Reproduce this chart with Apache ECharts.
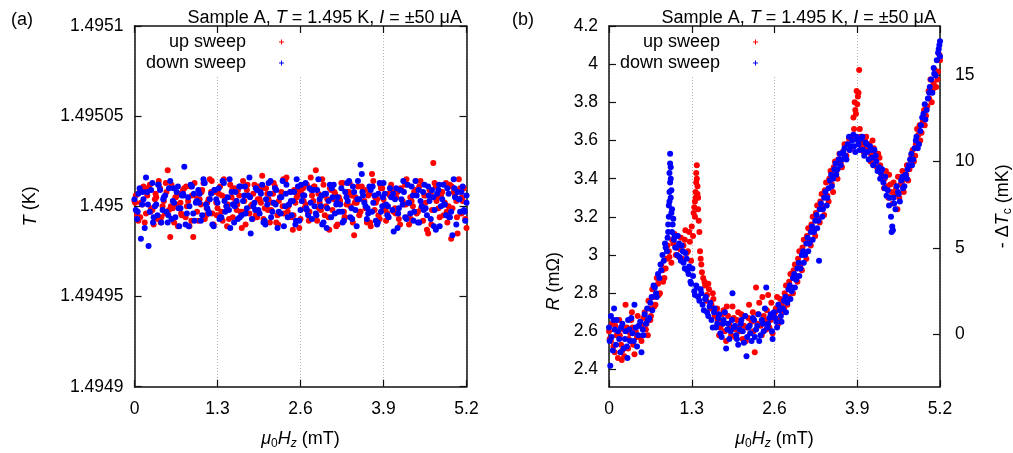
<!DOCTYPE html>
<html><head><meta charset="utf-8">
<script src="https://cdn.jsdelivr.net/npm/echarts@6/dist/echarts.min.js"></script>
<style>html,body{margin:0;padding:0;background:#fff}#c{width:1013px;height:453px}</style>
</head><body><div id="c"></div>
<script>
// ---------- tick labels ----------
const fieldTicks = [0, 1.3, 2.6, 3.9, 5.2];
const fieldTickLabels = ['0', '1.3', '2.6', '3.9', '5.2'];
const tempTickValues = [1.4949, 1.49495, 1.495, 1.49505, 1.4951];
const tempTickLabels = ['1.4949', '1.49495', '1.495', '1.49505', '1.4951'];
const resTickValues = [2.4, 2.6, 2.8, 3.0, 3.2, 3.4, 3.6, 3.8, 4.0, 4.2];
const resTickLabels = ['2.4', '2.6', '2.8', '3', '3.2', '3.4', '3.6', '3.8', '4', '4.2'];
const dTcTickValues = [0, 5, 10, 15];
const dTcTickLabels = ['0', '5', '10', '15'];

// ---------- panel (a): T (K) vs field (mT) ----------
const tempUp = [
[0.00,1.495003],[0.04,1.494995],[0.08,1.495008],[0.12,1.495001],[0.16,1.494991],[0.20,1.495006],[0.24,1.495012],[0.28,1.494998],[0.32,1.495004],[0.36,1.494993],
[0.40,1.495010],[0.44,1.495000],[0.48,1.494996],[0.52,1.495020],[0.56,1.494983],[0.60,1.494999],[0.64,1.495005],[0.68,1.494989],[0.72,1.495002],[0.76,1.495009],
[0.80,1.494994],[0.84,1.495003],[0.88,1.495011],[0.92,1.494983],[0.96,1.495006],[1.00,1.494992],[1.04,1.495001],[1.08,1.495013],[1.12,1.494995],[1.16,1.495004],
[1.20,1.495008],[1.24,1.494990],[1.28,1.495002],[1.32,1.495007],[1.36,1.494997],[1.40,1.495015],[1.44,1.495000],[1.48,1.494993],[1.52,1.495005],[1.56,1.495010],
[1.60,1.494998],[1.64,1.495006],[1.68,1.494988],[1.72,1.495003],[1.76,1.495009],[1.80,1.494996],[1.84,1.495001],[1.88,1.495012],[1.92,1.494994],[1.96,1.495004],
[2.00,1.495017],[2.04,1.494999],[2.08,1.495007],[2.12,1.494991],[2.16,1.495002],[2.20,1.495011],[2.24,1.494995],[2.28,1.495005],[2.32,1.495000],[2.36,1.495014],
[2.40,1.494997],[2.44,1.495008],[2.48,1.494987],[2.52,1.495002],[2.56,1.495006],[2.60,1.494993],[2.64,1.495010],[2.68,1.495001],[2.72,1.494996],[2.76,1.495016],
[2.80,1.495003],[2.84,1.495020],[2.88,1.495007],[2.92,1.494998],[2.96,1.495012],[3.00,1.495000],[3.04,1.494994],[3.08,1.495009],[3.12,1.495004],[3.16,1.494989],
[3.20,1.495005],[3.24,1.495013],[3.28,1.494997],[3.32,1.495001],[3.36,1.495008],[3.40,1.495006],[3.44,1.494984],[3.48,1.495002],[3.52,1.494995],[3.56,1.495011],
[3.60,1.495003],[3.64,1.494991],[3.68,1.495007],[3.72,1.495018],[3.76,1.494998],[3.80,1.495004],[3.84,1.494993],[3.88,1.495010],[3.92,1.495001],[3.96,1.494996],
[4.00,1.495006],[4.04,1.495009],[4.08,1.494999],[4.12,1.495008],[4.16,1.494990],[4.20,1.495003],[4.24,1.495012],[4.28,1.494994],[4.32,1.495005],[4.36,1.495000],
[4.40,1.495009],[4.44,1.494997],[4.48,1.495014],[4.52,1.494992],[4.56,1.495002],[4.60,1.494985],[4.64,1.495007],[4.68,1.495024],[4.72,1.495011],[4.76,1.494999],
[4.80,1.495006],[4.84,1.494995],[4.88,1.495013],[4.92,1.495000],[4.96,1.494982],[5.00,1.495008],[5.04,1.495003],[5.08,1.495015],[5.12,1.494996],[5.16,1.495010],
[5.20,1.494988],
[0.02,1.495006],[0.06,1.494992],[0.10,1.495002],[0.14,1.495011],[0.18,1.494996],[0.22,1.495009],[0.26,1.494999],[0.30,1.494990],[0.34,1.495005],[0.38,1.495014],
[0.42,1.494994],[0.46,1.495003],[0.50,1.495008],[0.54,1.494998],[0.58,1.495012],[0.62,1.494991],[0.66,1.495001],[0.70,1.495007],[0.74,1.494995],[0.78,1.495010],
[0.82,1.495000],[0.86,1.494989],[0.90,1.495006],[0.94,1.495013],[0.98,1.494997],[1.02,1.495004],[1.06,1.495009],[1.10,1.494993],[1.14,1.495002],[1.18,1.495015],
[1.22,1.494996],[1.26,1.495008],[1.30,1.494999],[1.34,1.495011],[1.38,1.494992],[1.42,1.495005],[1.46,1.495001],[1.50,1.495012],[1.54,1.494994],[1.58,1.495003],
[1.62,1.495009],[1.66,1.494997],[1.70,1.495014],[1.74,1.494990],[1.78,1.495006],[1.82,1.495000],[1.86,1.495007],[1.90,1.494995],[1.94,1.495011],[1.98,1.495002],
[2.02,1.494993],[2.06,1.495010],[2.10,1.495004],[2.14,1.494998],[2.18,1.495013],[2.22,1.494991],[2.26,1.495003],[2.30,1.495008],[2.34,1.494996],[2.38,1.495016],
[2.42,1.495001],[2.46,1.494994],[2.50,1.495009],[2.54,1.495005],[2.58,1.494988],[2.62,1.495007],[2.66,1.494999],[2.70,1.495012],[2.74,1.494997],[2.78,1.495006],
[2.82,1.495011],[2.86,1.494992],[2.90,1.495002],[2.94,1.495015],[2.98,1.494995],[3.02,1.495004],[3.06,1.495010],[3.10,1.494998],[3.14,1.495007],[3.18,1.494990],
[3.22,1.495003],[3.26,1.495013],[3.30,1.494994],[3.34,1.495008],[3.38,1.495000],[3.42,1.494991],[3.46,1.495005],[3.50,1.495011],[3.54,1.494997],[3.58,1.495009],
[3.62,1.494999],[3.66,1.495006],[3.70,1.494989],[3.74,1.495014],[3.78,1.495002],[3.82,1.494995],[3.86,1.495010],[3.90,1.495004],[3.94,1.494992],[3.98,1.495007],
[4.02,1.495012],[4.06,1.494997],[4.10,1.495005],[4.14,1.494993],[4.18,1.495009],[4.22,1.495001],[4.26,1.495015],[4.30,1.494990],[4.34,1.495003],[4.38,1.495008],
[4.42,1.494996],[4.46,1.495011],[4.50,1.495000],[4.54,1.495006],[4.58,1.494987],[4.62,1.495009],[4.66,1.494998],[4.70,1.495013],[4.74,1.495005],[4.78,1.494994],
[4.82,1.495008],[4.86,1.495002],[4.90,1.494991],[4.94,1.495012],[4.98,1.494999],[5.02,1.495006],[5.06,1.494985],[5.10,1.495010],[5.14,1.495003],[5.18,1.494993],
[0.01,1.495002],[0.09,1.494994],[0.17,1.495010],[0.25,1.494997],[0.33,1.495007],[0.41,1.494991],[0.49,1.495013],[0.57,1.495000],[0.65,1.495005],[0.73,1.494996],
[0.81,1.495011],[0.89,1.494992],[0.97,1.495003],[1.05,1.495008],[1.13,1.494999],[1.21,1.495014],[1.29,1.494995],[1.37,1.495006],[1.45,1.494989],[1.53,1.495009],
[1.61,1.495001],[1.69,1.494997],[1.77,1.495012],[1.85,1.494993],[1.93,1.495004],[2.01,1.495010],[2.09,1.494998],[2.17,1.495007],[2.25,1.494990],[2.33,1.495015],
[2.41,1.495000],[2.49,1.494995],[2.57,1.495009],[2.65,1.495003],[2.73,1.494992],[2.81,1.495011],[2.89,1.494999],[2.97,1.495006],[3.05,1.494987],[3.13,1.495008],
[3.21,1.495004],[3.29,1.494994],[3.37,1.495013],[3.45,1.495002],[3.53,1.494997],[3.61,1.495009],[3.69,1.494991],[3.77,1.495005],[3.85,1.495012],[3.93,1.494998],
[4.01,1.495007],[4.09,1.494996],[4.17,1.495010],[4.25,1.495001],[4.33,1.494993],[4.41,1.495014],[4.49,1.494999],[4.57,1.495006],[4.65,1.494990],[4.73,1.495003],
[4.81,1.495008],[4.89,1.494997],[4.97,1.495011],[5.05,1.494994],[5.13,1.495005]
];
const tempDown = [
[0.02,1.494998],[0.06,1.495007],[0.10,1.494982],[0.14,1.495004],[0.18,1.495016],[0.22,1.494978],[0.26,1.495009],[0.30,1.494994],[0.34,1.495001],[0.38,1.495012],
[0.42,1.494991],[0.46,1.495005],[0.50,1.494997],[0.54,1.495010],[0.58,1.494993],[0.62,1.495002],[0.66,1.495008],[0.70,1.494989],[0.74,1.495006],[0.78,1.495022],
[0.82,1.494996],[0.86,1.495000],[0.90,1.495011],[0.94,1.494992],[0.98,1.495003],[1.02,1.495007],[1.06,1.494995],[1.10,1.495013],[1.14,1.494999],[1.18,1.495004],
[1.22,1.494990],[1.26,1.495009],[1.30,1.495002],[1.34,1.494994],[1.38,1.495014],[1.42,1.494997],[1.46,1.495005],[1.50,1.494988],[1.54,1.495001],[1.58,1.495008],
[1.62,1.494993],[1.66,1.495011],[1.70,1.495003],[1.74,1.494996],[1.78,1.495006],[1.82,1.494985],[1.86,1.495000],[1.90,1.495010],[1.94,1.494998],[1.98,1.495007],
[2.02,1.494991],[2.06,1.495004],[2.10,1.495013],[2.14,1.494994],[2.18,1.495002],[2.22,1.495009],[2.26,1.494997],[2.30,1.495005],[2.34,1.494989],[2.38,1.495012],
[2.42,1.495001],[2.46,1.494995],[2.50,1.495008],[2.54,1.495015],[2.58,1.494992],[2.62,1.495003],[2.66,1.495006],[2.70,1.494998],[2.74,1.495010],[2.78,1.494993],
[2.82,1.495000],[2.86,1.495009],[2.90,1.495004],[2.94,1.494990],[2.98,1.495007],[3.02,1.494999],[3.06,1.495012],[3.10,1.495005],[3.14,1.494996],[3.18,1.495005],
[3.22,1.495001],[3.26,1.494991],[3.30,1.495008],[3.34,1.495003],[3.38,1.494994],[3.42,1.495011],[3.46,1.494998],[3.50,1.495014],[3.54,1.495023],[3.58,1.495006],
[3.62,1.495000],[3.66,1.494996],[3.70,1.495009],[3.74,1.495002],[3.78,1.494992],[3.82,1.495007],[3.86,1.494997],[3.90,1.495013],[3.94,1.495001],[3.98,1.494994],
[4.02,1.495005],[4.06,1.494986],[4.10,1.495010],[4.14,1.494999],[4.18,1.495004],[4.22,1.495008],[4.26,1.494993],[4.30,1.495002],[4.34,1.495011],[4.38,1.494997],
[4.42,1.495006],[4.46,1.494991],[4.50,1.495000],[4.54,1.495012],[4.58,1.494995],[4.62,1.495003],[4.66,1.495009],[4.70,1.494998],[4.74,1.495007],[4.78,1.494989],
[4.82,1.495004],[4.86,1.495001],[4.90,1.495010],[4.94,1.494994],[4.98,1.494984],[5.02,1.495005],[5.06,1.495008],[5.10,1.494997],[5.14,1.495011],[5.18,1.494992],
[5.20,1.495002],
[0.00,1.495004],[0.04,1.494993],[0.08,1.495010],[0.12,1.495001],[0.16,1.494988],[0.20,1.495008],[0.24,1.494997],[0.28,1.495013],[0.32,1.495000],[0.36,1.494995],
[0.40,1.495009],[0.44,1.494998],[0.48,1.495006],[0.52,1.494991],[0.56,1.495014],[0.60,1.495003],[0.64,1.494994],[0.68,1.495011],[0.72,1.494999],[0.76,1.495007],
[0.80,1.494990],[0.84,1.495005],[0.88,1.495012],[0.92,1.494996],[0.96,1.495002],[1.00,1.495009],[1.04,1.494992],[1.08,1.495015],[1.12,1.495001],[1.16,1.494997],
[1.20,1.495007],[1.24,1.494989],[1.28,1.495004],[1.32,1.495010],[1.36,1.494994],[1.40,1.495013],[1.44,1.495000],[1.48,1.494998],[1.52,1.495008],[1.56,1.494991],
[1.60,1.495003],[1.64,1.495011],[1.68,1.494995],[1.72,1.495006],[1.76,1.494999],[1.80,1.495016],[1.84,1.494993],[1.88,1.495002],[1.92,1.495009],[1.96,1.494996],
[2.00,1.495012],[2.04,1.494992],[2.08,1.495001],[2.12,1.495007],[2.16,1.494997],[2.20,1.495010],[2.24,1.494988],[2.28,1.495005],[2.32,1.495014],[2.36,1.495000],
[2.40,1.494994],[2.44,1.495008],[2.48,1.495003],[2.52,1.494990],[2.56,1.495011],[2.60,1.494998],[2.64,1.495006],[2.68,1.495013],[2.72,1.494995],[2.76,1.495002],
[2.80,1.495009],[2.84,1.494996],[2.88,1.495015],[2.92,1.495000],[2.96,1.494991],[3.00,1.495007],[3.04,1.495003],[3.08,1.494994],[3.12,1.495012],[3.16,1.495001],
[3.20,1.494997],[3.24,1.495010],[3.28,1.494992],[3.32,1.495005],[3.36,1.495014],[3.40,1.494999],[3.44,1.495008],[3.48,1.494989],[3.52,1.495004],[3.56,1.495018],
[3.60,1.495002],[3.64,1.494993],[3.68,1.495011],[3.72,1.494997],[3.76,1.495006],[3.80,1.494990],[3.84,1.495013],[3.88,1.495000],[3.92,1.495007],[3.96,1.494995],
[4.00,1.495010],[4.04,1.494998],[4.08,1.495004],[4.12,1.494988],[4.16,1.495009],[4.20,1.495001],[4.24,1.494994],[4.28,1.495012],[4.32,1.494996],[4.36,1.495006],
[4.40,1.495014],[4.44,1.494991],[4.48,1.495003],[4.52,1.495008],[4.56,1.494999],[4.60,1.495011],[4.64,1.494993],[4.68,1.495005],[4.72,1.494987],[4.76,1.495009],
[4.80,1.495000],[4.84,1.495012],[4.88,1.494995],[4.92,1.495007],[4.96,1.494997],[5.00,1.495015],[5.04,1.494990],[5.08,1.495004],[5.12,1.495008],[5.16,1.494998],
[5.20,1.495006],
[0.05,1.494997],[0.13,1.495008],[0.21,1.495001],[0.29,1.494991],[0.37,1.495012],[0.45,1.495004],[0.53,1.494995],[0.61,1.495010],[0.69,1.494999],[0.77,1.495006],
[0.85,1.494989],[0.93,1.495007],[1.01,1.495002],[1.09,1.495013],[1.17,1.494996],[1.25,1.495009],[1.33,1.494993],[1.41,1.495003],[1.49,1.495015],[1.57,1.495000],
[1.65,1.494994],[1.73,1.495011],[1.81,1.495005],[1.89,1.494998],[1.97,1.495008],[2.05,1.494990],[2.13,1.495014],[2.21,1.495001],[2.29,1.494996],[2.37,1.495007],
[2.45,1.495003],[2.53,1.494992],[2.61,1.495012],[2.69,1.494999],[2.77,1.495009],[2.85,1.494995],[2.93,1.495006],[3.01,1.494988],[3.09,1.495010],[3.17,1.495002],
[3.25,1.494997],[3.33,1.495013],[3.41,1.494993],[3.49,1.495004],[3.57,1.495008],[3.65,1.494999],[3.73,1.495011],[3.81,1.494991],[3.89,1.495005],[3.97,1.495000],
[4.05,1.495007],[4.13,1.494996],[4.21,1.495014],[4.29,1.495002],[4.37,1.494992],[4.45,1.495009],[4.53,1.494998],[4.61,1.495006],[4.69,1.494989],[4.77,1.495012],
[4.85,1.495001],[4.93,1.494994],[5.01,1.495010],[5.09,1.495004],[5.17,1.494997]
];

// ---------- panel (b): R (mOhm) vs field (mT) ----------
const resUp = [
[0.00,2.60],[0.03,2.55],[0.07,2.52],[0.10,2.63],[0.14,2.46],[0.17,2.58],[0.21,2.50],[0.24,2.47],[0.28,2.62],[0.31,2.56],[0.35,2.66],[0.38,2.53],[0.42,2.60],[0.45,2.68],[0.49,2.57],[0.52,2.63],[0.56,2.70],
[0.59,2.64],[0.63,2.72],[0.66,2.68],[0.70,2.78],[0.73,2.74],[0.77,2.85],[0.80,2.80],[0.84,2.92],[0.87,2.88],[0.91,2.98],[0.94,3.02],[0.98,2.96],[1.01,3.06],[1.05,3.00],
[1.08,3.10],[1.12,3.03],[1.15,2.98],[1.19,3.08],[1.22,3.01],[1.26,3.12],[1.29,2.97],
[1.33,3.22],[1.35,3.28],[1.36,3.33],[1.37,3.38],[1.38,3.47],[1.39,3.36],[1.40,3.30],[1.41,3.18],
[1.43,3.02],[1.45,2.95],[1.48,2.88],[1.51,2.84],[1.54,2.79],[1.57,2.82],[1.61,2.74],[1.64,2.77],[1.68,2.70],
[1.71,2.66],[1.75,2.62],[1.78,2.69],[1.82,2.60],[1.85,2.73],[1.89,2.64],[1.92,2.58],[1.96,2.67],[1.99,2.61],[2.03,2.70],[2.06,2.63],[2.10,2.56],[2.13,2.68],[2.17,2.62],[2.20,2.74],
[2.24,2.65],[2.27,2.60],[2.31,2.83],[2.34,2.69],[2.38,2.63],[2.41,2.78],[2.45,2.66],[2.48,2.71],[2.52,2.62],[2.55,2.75],[2.59,2.68],[2.62,2.72],[2.66,2.64],[2.69,2.77],[2.73,2.70],
[2.76,2.80],[2.80,2.74],[2.83,2.86],[2.87,2.83],[2.90,2.92],[2.94,2.89],[2.97,2.98],[3.01,2.95],[3.04,3.04],[3.08,3.01],[3.11,3.10],[3.15,3.07],[3.18,3.16],[3.22,3.13],
[3.25,3.22],[3.29,3.19],[3.32,3.28],[3.36,3.25],[3.39,3.34],[3.43,3.31],[3.46,3.40],[3.50,3.37],[3.53,3.46],[3.57,3.43],[3.60,3.50],[3.64,3.48],[3.67,3.54],[3.71,3.52],
[3.74,3.58],[3.78,3.55],[3.81,3.62],[3.85,3.66],[3.88,3.74],[3.91,3.83],[3.92,3.85],[3.93,3.97],[3.95,3.62],[3.98,3.57],[4.02,3.60],[4.05,3.55],[4.09,3.58],[4.12,3.52],
[4.16,3.56],[4.19,3.50],[4.23,3.53],[4.26,3.47],
[4.30,3.44],[4.33,3.40],[4.37,3.36],[4.40,3.42],[4.44,3.33],[4.47,3.38],[4.51,3.35],[4.54,3.41],[4.58,3.37],[4.61,3.44],[4.65,3.40],[4.68,3.47],[4.72,3.45],
[4.75,3.52],[4.79,3.49],[4.82,3.58],[4.86,3.63],[4.89,3.60],[4.93,3.70],[4.96,3.68],[5.00,3.78],[5.03,3.82],[5.07,3.80],[5.10,3.90],[5.14,3.88],[5.17,3.96],[5.20,4.02],
[0.01,2.56],[0.05,2.64],[0.09,2.49],[0.12,2.58],[0.16,2.66],[0.19,2.53],[0.23,2.61],[0.26,2.74],[0.30,2.51],[0.33,2.59],[0.37,2.62],[0.40,2.48],[0.44,2.57],[0.47,2.63],[0.51,2.55],[0.54,2.67],[0.58,2.61],[0.61,2.58],[0.20,2.45],[0.36,2.70],
[0.62,2.76],[0.65,2.66],[0.68,2.82],[0.71,2.73],[0.75,2.88],[0.78,2.79],[0.82,2.95],[0.85,2.86],[0.89,2.93],[0.92,3.05],[0.95,2.99],[0.99,3.08],
[1.03,3.11],[1.06,3.04],[1.10,2.99],[1.13,3.09],[1.17,3.05],[1.20,3.13],[1.24,3.02],[1.27,3.07],[1.30,3.15],[1.32,3.10],
[1.34,3.25],[1.35,3.20],[1.36,3.30],[1.37,3.43],[1.38,3.40],[1.39,3.32],[1.40,3.24],[1.42,3.12],
[1.44,2.98],[1.46,2.91],[1.50,2.86],[1.53,2.76],[1.56,2.85],[1.59,2.72],[1.63,2.80],[1.66,2.68],
[1.70,2.72],[1.73,2.58],[1.77,2.65],[1.80,2.71],[1.84,2.55],[1.87,2.68],[1.91,2.62],[1.94,2.73],[1.98,2.57],[2.01,2.66],[2.05,2.60],[2.08,2.69],[2.12,2.63],[2.15,2.55],[2.19,2.67],
[2.22,2.59],[2.26,2.70],[2.29,2.49],[2.33,2.64],[2.36,2.75],[2.40,2.58],[2.43,2.68],[2.47,2.61],[2.50,2.79],[2.54,2.66],[2.57,2.59],[2.61,2.70],[2.64,2.78],[2.68,2.67],[2.71,2.74],
[2.75,2.72],[2.78,2.84],[2.82,2.78],[2.85,2.90],[2.89,2.80],[2.92,2.95],[2.96,2.86],[2.99,3.02],[3.03,2.92],[3.06,3.08],[3.10,2.98],[3.13,3.14],[3.17,3.05],[3.20,3.20],
[3.24,3.10],[3.27,3.26],[3.31,3.17],[3.34,3.32],[3.38,3.21],[3.41,3.38],[3.45,3.28],[3.48,3.44],[3.52,3.33],[3.55,3.49],[3.59,3.40],[3.62,3.53],[3.66,3.46],[3.70,3.58],
[3.73,3.52],[3.77,3.61],[3.80,3.56],[3.84,3.72],[3.86,3.80],[3.87,3.76],[3.89,3.86],[3.90,3.79],[3.94,3.66],[3.97,3.59],[4.00,3.54],[4.04,3.62],[4.07,3.57],[4.11,3.49],
[4.14,3.60],[4.18,3.53],[4.21,3.46],[4.25,3.51],
[4.28,3.42],[4.32,3.35],[4.35,3.44],[4.39,3.30],[4.42,3.37],[4.46,3.27],[4.49,3.32],[4.53,3.24],[4.56,3.30],[4.60,3.38],[4.63,3.33],[4.67,3.42],[4.70,3.39],
[4.74,3.47],[4.77,3.55],[4.81,3.52],[4.84,3.66],[4.88,3.68],[4.91,3.64],[4.95,3.76],[4.98,3.73],[5.02,3.86],[5.05,3.92],[5.09,3.87],[5.12,3.97],[5.16,3.92],[5.19,4.05]
];
const resDown = [
[0.02,2.42],[0.00,2.62],[0.04,2.57],[0.07,2.66],[0.11,2.53],[0.14,2.60],[0.18,2.49],[0.21,2.64],[0.25,2.56],[0.28,2.52],[0.32,2.61],[0.35,2.67],[0.39,2.55],[0.42,2.62],[0.46,2.58],[0.49,2.65],[0.53,2.61],[0.56,2.69],
[0.60,2.72],[0.63,2.67],[0.67,2.78],[0.70,2.84],[0.74,2.80],[0.77,2.90],[0.81,2.95],[0.84,3.00],[0.88,3.06],[0.91,3.02],
[0.93,3.12],[0.94,3.20],[0.95,3.28],[0.96,3.38],[0.96,3.53],[0.97,3.46],[0.98,3.34],[0.99,3.24],[1.00,3.16],[1.02,3.08],[1.04,3.04],
[1.07,3.00],[1.10,3.06],[1.13,2.97],[1.16,3.02],[1.19,2.93],[1.22,2.98],[1.25,2.90],[1.28,2.86],[1.31,2.93],[1.34,2.81],[1.37,2.84],[1.40,2.78],[1.44,2.82],[1.47,2.74],[1.51,2.77],[1.54,2.70],[1.58,2.73],
[1.61,2.66],[1.65,2.70],[1.68,2.62],[1.72,2.67],[1.75,2.59],[1.79,2.64],[1.82,2.70],[1.86,2.61],[1.89,2.56],[1.93,2.66],[1.96,2.62],[2.00,2.58],[2.03,2.53],[2.07,2.64],[2.10,2.60],[2.14,2.68],
[2.17,2.57],[2.21,2.63],[2.24,2.55],[2.28,2.66],[2.31,2.61],[2.35,2.69],[2.38,2.58],[2.42,2.64],[2.45,2.72],[2.49,2.62],[2.52,2.67],[2.56,2.60],[2.59,2.70],[2.63,2.65],[2.66,2.74],[2.70,2.68],
[2.73,2.72],[2.77,2.78],[2.80,2.75],[2.84,2.84],[2.87,2.81],[2.91,2.90],[2.94,2.87],[2.98,2.96],[3.01,2.93],[3.05,3.02],[3.08,3.00],[3.12,3.09],[3.15,3.06],[3.19,3.15],
[3.22,3.12],[3.26,3.21],[3.29,3.18],[3.33,3.27],[3.36,3.24],[3.40,3.33],[3.43,3.30],[3.47,3.39],[3.50,3.36],[3.54,3.45],[3.57,3.42],[3.61,3.50],[3.64,3.47],
[3.68,3.54],[3.71,3.52],[3.75,3.58],[3.78,3.55],[3.82,3.60],[3.85,3.57],[3.89,3.62],[3.92,3.58],[3.96,3.61],[3.99,3.55],[4.03,3.59],[4.06,3.54],[4.10,3.57],[4.13,3.51],[4.17,3.55],[4.20,3.49],[4.24,3.46],
[4.27,3.43],[4.31,3.38],[4.34,3.41],[4.38,3.34],[4.41,3.30],[4.45,3.15],[4.46,3.13],[4.48,3.27],[4.52,3.36],[4.55,3.32],[4.59,3.39],[4.62,3.35],[4.66,3.42],[4.69,3.45],
[4.73,3.50],[4.76,3.47],[4.80,3.56],[4.83,3.62],[4.87,3.58],[4.90,3.68],[4.94,3.74],[4.97,3.71],[5.01,3.82],[5.04,3.88],[5.08,3.85],[5.11,3.95],[5.15,4.02],[5.18,4.08],[5.20,4.12],
[0.01,2.55],[0.03,2.68],[0.06,2.50],[0.09,2.61],[0.12,2.66],[0.16,2.56],[0.19,2.62],[0.23,2.51],[0.26,2.60],[0.30,2.66],[0.33,2.55],[0.37,2.59],[0.40,2.74],[0.44,2.52],[0.47,2.63],[0.51,2.49],[0.54,2.58],[0.58,2.64],[0.08,2.72],[0.29,2.46],
[0.61,2.66],[0.65,2.75],[0.68,2.71],[0.72,2.83],[0.75,2.78],[0.79,2.88],[0.82,2.92],[0.86,2.97],[0.89,3.04],[0.92,3.09],
[0.93,3.16],[0.94,3.26],[0.95,3.33],[0.95,3.43],[0.96,3.48],[0.97,3.40],[0.97,3.30],[0.98,3.22],[0.99,3.12],[1.01,3.19],[1.03,3.10],
[1.06,3.04],[1.08,3.10],[1.11,2.99],[1.14,3.05],[1.17,2.96],[1.20,3.01],[1.23,2.92],[1.26,2.94],[1.29,2.85],[1.32,2.89],[1.35,2.79],[1.38,2.83],[1.42,2.76],[1.45,2.80],[1.49,2.71],[1.52,2.78],[1.56,2.68],[1.59,2.75],
[1.63,2.62],[1.66,2.72],[1.70,2.64],[1.73,2.69],[1.77,2.57],[1.80,2.66],[1.84,2.51],[1.87,2.64],[1.91,2.60],[1.94,2.80],[1.98,2.63],[2.01,2.56],[2.05,2.61],[2.08,2.66],[2.12,2.54],[2.16,2.47],
[2.19,2.62],[2.22,2.59],[2.26,2.67],[2.29,2.57],[2.33,2.63],[2.36,2.55],[2.40,2.66],[2.43,2.60],[2.47,2.83],[2.50,2.64],[2.54,2.69],[2.57,2.56],[2.61,2.67],[2.64,2.62],[2.68,2.71],[2.71,2.65],
[2.75,2.76],[2.78,2.70],[2.82,2.82],[2.85,2.77],[2.89,2.88],[2.92,2.83],[2.96,2.93],[2.99,2.89],[3.03,3.00],[3.06,2.96],[3.10,3.06],[3.13,3.02],[3.17,3.12],[3.20,3.08],
[3.24,3.18],[3.27,3.14],[3.30,2.97],[3.31,3.24],[3.35,3.20],[3.38,3.30],[3.42,3.26],[3.45,3.35],[3.49,3.42],[3.52,3.40],[3.56,3.48],[3.59,3.45],[3.63,3.53],[3.66,3.50],
[3.70,3.56],[3.73,3.50],[3.77,3.62],[3.80,3.57],[3.84,3.63],[3.87,3.54],[3.91,3.60],[3.94,3.55],[3.98,3.62],[4.01,3.52],[4.05,3.58],[4.08,3.50],[4.12,3.55],[4.15,3.47],[4.19,3.52],[4.22,3.44],
[4.26,3.40],[4.29,3.45],[4.33,3.35],[4.36,3.31],[4.40,3.26],[4.43,3.20],[4.44,3.12],[4.47,3.30],[4.50,3.24],[4.54,3.33],[4.57,3.28],[4.61,3.41],[4.64,3.36],[4.68,3.40],[4.71,3.47],
[4.75,3.53],[4.78,3.50],[4.82,3.60],[4.85,3.56],[4.89,3.65],[4.92,3.72],[4.96,3.79],[4.99,3.76],[5.03,3.85],[5.06,3.92],[5.10,3.98],[5.13,3.94],[5.17,4.06],[5.19,4.10],[5.20,4.04]
];

// ---------- styling ----------
const FONT = 'Liberation Sans, Arial, Helvetica, sans-serif';
const FS = 17.5;   // tick labels
const FT = 18;     // titles, legend, axis names
const INK = '#000';
const RED = '#ff0000';
const BLUE = '#0000ff';
const rich = {
  i: { fontStyle: 'italic', fontSize: FT, fontFamily: FONT, color: INK, lineHeight: 22 },
  n: { fontSize: FT, fontFamily: FONT, color: INK, lineHeight: 22 },
  s: { fontSize: 12, fontFamily: FONT, color: INK, lineHeight: 11, verticalAlign: 'bottom' },
  si: { fontSize: 12, fontStyle: 'italic', fontFamily: FONT, color: INK, lineHeight: 11, verticalAlign: 'bottom' }
};
function lookup(vals, labels) {
  return function (v) {
    for (let k = 0; k < vals.length; k++) if (Math.abs(vals[k] - v) < 1e-9 * Math.max(1, Math.abs(v))) return labels[k];
    return '';
  };
}
const plusIcon = 'path://M2,0L3,0L3,2L5,2L5,3L3,3L3,5L2,5L2,3L0,3L0,2L2,2Z';
const axisLine = { show: true, onZero: false, lineStyle: { color: '#111', width: 1.5 } };

function xAxisDef(grid, top) {
  return {
    gridIndex: grid, type: 'value', position: top ? 'top' : 'bottom',
    min: 0, max: 5.2, interval: 1.3,
    axisLine: axisLine,
    axisTick: { show: true, inside: true, length: 7, lineStyle: { color: '#111', width: 1.2 } },
    axisLabel: { show: !top, margin: 13, fontSize: FS, fontFamily: FONT, color: INK,
      formatter: lookup(fieldTicks, fieldTickLabels) },
    splitLine: { show: !top, lineStyle: { type: [1, 2], color: '#b0b0b0', width: 1 } },
    name: top ? '' : '{i|μ}{s|0}{i|H}{si|z}{n| (mT)}',
    nameLocation: 'middle', nameGap: 41,
    nameTextStyle: { fontSize: FT, fontFamily: FONT, color: INK, rich: rich }
  };
}
function yAxisDef(grid, pos, min, max, vals, labels, showLabels, name, nameGap, labelMargin, namePad) {
  return {
    gridIndex: grid, type: 'value', position: pos, min: min, max: max,
    axisLine: axisLine,
    axisTick: { show: true, inside: true, length: 7, customValues: vals, lineStyle: { color: '#111', width: 1.2 } },
    axisLabel: { show: showLabels, customValues: vals, margin: labelMargin, fontSize: FS, fontFamily: FONT, color: INK,
      formatter: lookup(vals, labels) },
    splitLine: { show: false },
    name: name, nameLocation: 'middle', nameGap: nameGap, nameRotate: 90,
    nameTextStyle: { fontSize: FT, fontFamily: FONT, color: INK, rich: rich, padding: namePad || 0 }
  };
}
function legendItem(name, right, top) {
  return {
    data: [name], right: right, top: top, orient: 'horizontal', align: 'right',
    itemWidth: 5, itemHeight: 5, icon: plusIcon, padding: 0, selectedMode: false,
    formatter: function (n) { return '{t|' + n + '}'; },
    textStyle: { fontSize: FT, fontFamily: FONT, color: INK,
      rich: { t: { fontSize: FT, fontFamily: FONT, color: INK, padding: [0, 28, 0, 0] } } }
  };
}
function scatter(name, color, data, xi, yi) {
  return {
    name: name, type: 'scatter', xAxisIndex: xi, yAxisIndex: yi, data: data,
    symbol: 'circle', symbolSize: 6, itemStyle: { color: color, opacity: 1 },
    silent: true, animation: false
  };
}
const titleText = '{n|Sample A, }{i|T}{n| = 1.495 K, }{i|I}{n| = ±50 μA}';

const chart = echarts.init(document.getElementById('c'), null, { renderer: 'canvas' });
chart.setOption({
  backgroundColor: '#ffffff',
  animation: false,
  title: [
    { text: '(a)', left: 6, top: 6, textStyle: { fontSize: FT, fontWeight: 'normal', fontFamily: FONT, color: INK } },
    { text: '(b)', left: 507, top: 6, textStyle: { fontSize: FT, fontWeight: 'normal', fontFamily: FONT, color: INK } },
    { text: titleText, right: 1013 - 467, top: 2, textStyle: { fontSize: FT, fontWeight: 'normal', fontFamily: FONT, color: INK, rich: rich } },
    { text: titleText, right: 1013 - 941, top: 2, textStyle: { fontSize: FT, fontWeight: 'normal', fontFamily: FONT, color: INK, rich: rich } }
  ],
  grid: [
    { left: 134.5, top: 26, width: 332, height: 360.7, containLabel: false, outerBoundsMode: 'none' },
    { left: 609, top: 26, width: 331, height: 360.7, containLabel: false, outerBoundsMode: 'none' }
  ],
  xAxis: [xAxisDef(0, false), xAxisDef(0, true), xAxisDef(1, false), xAxisDef(1, true)],
  yAxis: [
    yAxisDef(0, 'left', 1.4949, 1.4951, tempTickValues, tempTickLabels, true, '{i|T}{n| (K)}', 93, 11),
    yAxisDef(0, 'right', 1.4949, 1.4951, tempTickValues, tempTickLabels, false, '', 0, 11),
    yAxisDef(1, 'left', 2.31, 4.2, resTickValues, resTickLabels, true, '{i|R}{n| (mΩ)}', 44, 11, [0, 150, 0, 0]),
    yAxisDef(1, 'right', -3.03, 17.83, dTcTickValues, dTcTickLabels, true, '{n|- Δ}{i|T}{s|c}{n| (mK)}', 52, 15)
  ],
  legend: [
    legendItem('up sweep', 1013 - 284, 33),
    legendItem('down sweep', 1013 - 284, 54),
    legendItem('up sweep', 1013 - 758, 33),
    legendItem('down sweep', 1013 - 758, 54)
  ],
  graphic: [
    { type: 'rect', shape: { x: 137, y: 34, width: 170, height: 41 }, style: { fill: '#ffffff' }, z: 1, silent: true },
    { type: 'rect', shape: { x: 618, y: 34, width: 172, height: 41 }, style: { fill: '#ffffff' }, z: 1, silent: true }
  ],
  series: [
    scatter('up sweep', RED, tempUp, 0, 0),
    scatter('down sweep', BLUE, tempDown, 0, 0),
    scatter('up sweep', RED, resUp, 2, 2),
    scatter('down sweep', BLUE, resDown, 2, 2)
  ]
});
</script>
</body></html>
